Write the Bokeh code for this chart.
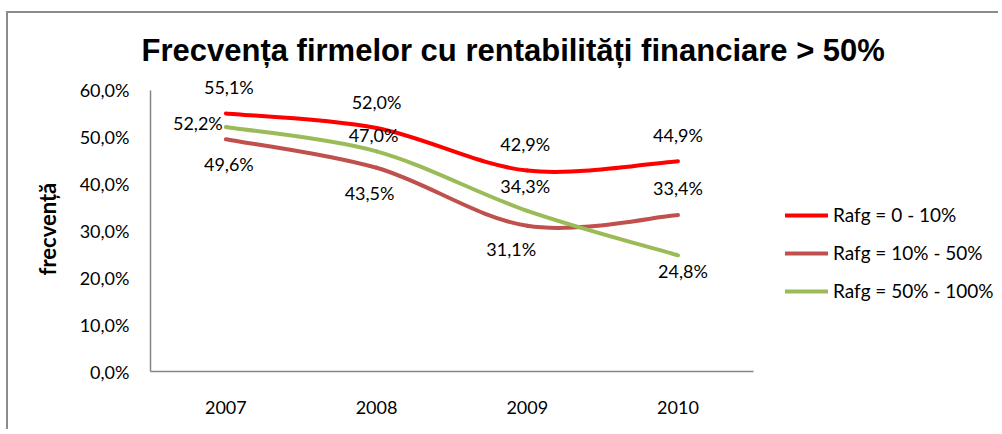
from bokeh.plotting import figure
from bokeh.models import Range1d, FixedTicker, Legend, LegendItem, ColumnDataSource, Title
from bokeh.embed import file_html
from bokeh.resources import INLINE
from bokeh.core.properties import value

# ---- data ----
years = ["2007", "2008", "2009", "2010"]
rafg_0_10 = [55.1, 52.0, 42.9, 44.9]
rafg_10_50 = [49.6, 43.5, 31.1, 33.4]
rafg_50_100 = [52.2, 47.0, 34.3, 24.8]
series_names = ["Rafg = 0 - 10%", "Rafg = 10% - 50%", "Rafg = 50% - 100%"]
y_ticks = [0, 10, 20, 30, 40, 50, 60]
title_text = "Frecvența firmelor cu rentabilități financiare  > 50%"
y_title = "frecvență"

# ---- styles / positions ----
colors = ["#FF0000", "#C0504D", "#9BBB59"]
label_dx = [[3, 0, -2, 0], [3, -7, -16, 0], [-28, -3, -2, 5]]
label_dy = [[-26, -26, -27, -26], [25, 25, 23, -27], [-4, -16, -25, 16]]
FONT = "Lato"
FS = "18px"


def fmt(v):
    return f"{v:.1f}".replace(".", ",") + "%"


W, H = 992, 418
p = figure(width=W, height=H, output_backend="svg", toolbar_location=None,
           x_range=Range1d(0, 5.64), y_range=Range1d(0, 63.2),
           min_border_left=142, min_border_right=0, min_border_top=62,
           min_border_bottom=60, title=title_text)
p.margin = (11, 0, 0, 6)
p.styles = {"border-left": "2px solid #8C8C8C", "border-top": "2px solid #8C8C8C"}
p.outline_line_color = None
p.xgrid.visible = False
p.ygrid.visible = False
p.background_fill_color = "white"
p.border_fill_color = "white"

p.title.align = "left"
p.title.offset = -9
p.title.standoff = 15
p.title.text_font = "Liberation Sans"
p.title.text_font_style = "bold"
p.title.text_font_size = "31px"
p.title.text_color = "#000000"

xs = [i + 0.5 for i in range(len(years))]

# axes
p.xaxis.ticker = FixedTicker(ticks=xs)
p.xaxis.major_label_overrides = {x: y for x, y in zip(xs, years)}
p.xaxis.bounds = (0, len(years))
p.yaxis.ticker = FixedTicker(ticks=y_ticks)
p.yaxis.major_label_overrides = {t: fmt(t) for t in y_ticks}
p.yaxis.bounds = (0, 60)
for ax in (p.xaxis[0], p.yaxis[0]):
    ax.axis_line_color = "#868686"
    ax.axis_line_width = 1.5
    ax.major_tick_line_color = None
    ax.minor_tick_line_color = None
    ax.major_tick_out = 0
    ax.major_tick_in = 0
    ax.major_label_text_font = FONT
    ax.major_label_text_font_size = FS
    ax.major_label_text_color = "#000000"
p.xaxis.major_label_standoff = 29
p.yaxis.major_label_standoff = 21

# y-axis title, placed along the 0-60% axis
ytitle = Title(text=y_title, align="left", offset=96, standoff=31,
               text_font=FONT, text_font_style="bold", text_font_size="22px",
               text_color="#000000")
p.add_layout(ytitle, "left")

series = [rafg_0_10, rafg_10_50, rafg_50_100]
items = []
for k, ys in enumerate(series):
    n = len(ys)
    x0, y0, x1, y1, cx0, cy0, cx1, cy1 = [], [], [], [], [], [], [], []
    for i in range(n - 1):
        a = i - 1 if i > 0 else i
        d = i + 2 if i + 2 < n else i + 1
        x0.append(xs[i]); y0.append(ys[i])
        x1.append(xs[i + 1]); y1.append(ys[i + 1])
        cx0.append(xs[i] + (xs[i + 1] - xs[a]) / 6)
        cy0.append(ys[i] + (ys[i + 1] - ys[a]) / 6)
        cx1.append(xs[i + 1] - (xs[d] - xs[i]) / 6)
        cy1.append(ys[i + 1] - (ys[d] - ys[i]) / 6)
    r = p.bezier(x0=x0, y0=y0, x1=x1, y1=y1, cx0=cx0, cy0=cy0, cx1=cx1, cy1=cy1,
                 line_color=colors[k], line_width=4, line_cap="round")
    items.append(LegendItem(label=series_names[k], renderers=[r], index=0))
    src = ColumnDataSource(dict(x=xs, y=ys, t=[fmt(v) for v in ys],
                                dx=label_dx[k], dy=label_dy[k]))
    p.text(x="x", y="y", text="t", x_offset="dx", y_offset="dy", source=src,
           text_align="center", text_baseline="middle",
           text_font=value(FONT), text_font_size=FS, text_color="#000000")

legend = Legend(items=items, location=(635, 69), orientation="vertical")
legend.margin = 0
legend.padding = 0
legend.border_line_color = None
legend.background_fill_alpha = 0
legend.glyph_width = 43
legend.glyph_height = 20
legend.label_height = 20
legend.spacing = 15
legend.label_standoff = 5
legend.label_text_font = FONT
legend.label_text_font_size = "19px"
legend.label_text_color = "#000000"
p.add_layout(legend)

open("out.html", "w").write(file_html(p, INLINE))
